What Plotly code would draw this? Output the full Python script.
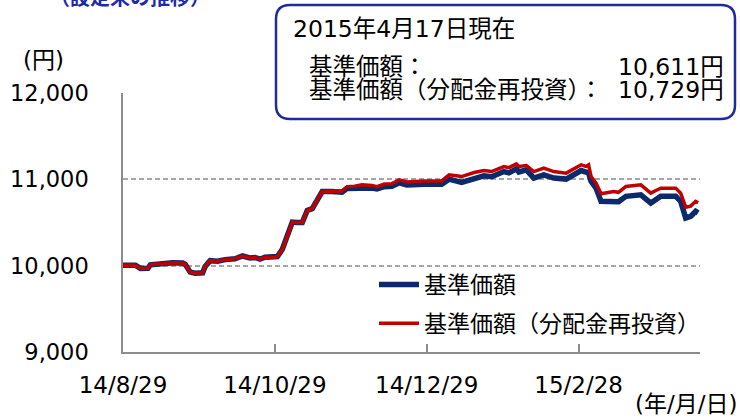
import plotly.graph_objects as go

# ---- data ----
dates = [
    "2014-08-29", "2014-09-01", "2014-09-03", "2014-09-05", "2014-09-08", "2014-09-09",
    "2014-09-11", "2014-09-15", "2014-09-18", "2014-09-22", "2014-09-23", "2014-09-25",
    "2014-09-27", "2014-09-30", "2014-10-01", "2014-10-03", "2014-10-06", "2014-10-09",
    "2014-10-13", "2014-10-16", "2014-10-19", "2014-10-21", "2014-10-23", "2014-10-25",
    "2014-10-28", "2014-10-30", "2014-11-01", "2014-11-03", "2014-11-05", "2014-11-07",
    "2014-11-09", "2014-11-11", "2014-11-13", "2014-11-15", "2014-11-17", "2014-11-21",
    "2014-11-25", "2014-11-27", "2014-11-30", "2014-12-03", "2014-12-07", "2014-12-09",
    "2014-12-12", "2014-12-15", "2014-12-18", "2014-12-21", "2014-12-24", "2014-12-28",
    "2015-01-04", "2015-01-07", "2015-01-12", "2015-01-17", "2015-01-21", "2015-01-24",
    "2015-01-29", "2015-01-31", "2015-02-03", "2015-02-04", "2015-02-07", "2015-02-10",
    "2015-02-14", "2015-02-18", "2015-02-23", "2015-03-01", "2015-03-03", "2015-03-04",
    "2015-03-05", "2015-03-07", "2015-03-09", "2015-03-14", "2015-03-16", "2015-03-19",
    "2015-03-25", "2015-03-29", "2015-03-31", "2015-04-02", "2015-04-08", "2015-04-10",
    "2015-04-12", "2015-04-14", "2015-04-16", "2015-04-17",
]
nav = [
    10005, 10010, 10005, 9968, 9970, 10010,
    10018, 10022, 10035, 10030, 10015, 9925,
    9912, 9918, 9990, 10058, 10052, 10070,
    10080, 10112, 10090, 10095, 10075, 10098,
    10095, 10105, 10190, 10340, 10505, 10500,
    10500, 10640, 10660, 10760, 10858, 10860,
    10850, 10895, 10900, 10905, 10900, 10890,
    10915, 10920, 10960, 10935, 10940, 10942,
    10942, 11002, 10965, 11015, 11040, 11030,
    11090, 11075, 11121, 11085, 11110, 11014,
    11052, 11015, 11003, 11102, 11080, 11075,
    10977, 10898, 10745, 10745, 10740, 10803,
    10821, 10725, 10763, 10803, 10803, 10745,
    10551, 10570, 10630, 10611,
]
nav_reinvested = [
    10005, 10010, 10005, 9968, 9970, 10010,
    10018, 10022, 10035, 10030, 10015, 9925,
    9912, 9918, 9990, 10058, 10052, 10070,
    10080, 10112, 10090, 10095, 10075, 10098,
    10095, 10105, 10190, 10340, 10505, 10500,
    10500, 10640, 10660, 10760, 10858, 10862,
    10865, 10915, 10920, 10936, 10930, 10915,
    10945, 10950, 10995, 10970, 10978, 10980,
    10982, 11052, 11032, 11079, 11102, 11090,
    11148, 11135, 11179, 11150, 11160, 11090,
    11129, 11090, 11072, 11168, 11150, 11168,
    11033, 10957, 10832, 10860, 10850, 10918,
    10936, 10840, 10871, 10898, 10898, 10840,
    10678, 10690, 10745, 10729,
]
series_names = ["基準価額", "基準価額（分配金再投資）"]
x_tick_values = ["2014-08-29", "2014-10-29", "2014-12-29", "2015-02-28"]
x_tick_labels = ["14/8/29", "14/10/29", "14/12/29", "15/2/28"]
y_tick_values = [9000, 10000, 11000, 12000]
y_tick_labels = ["9,000", "10,000", "11,000", "12,000"]
as_of_text = "2015年4月17日現在"
nav_label = "基準価額："
nav_value = "10,611円"
reinv_label = "基準価額（分配金再投資）："
reinv_value = "10,729円"

# ---- layout geometry ----
W, H = 740, 418
ML, MR, MT, MB = 123, 40, 93, 66
PW, PH = W - ML - MR, H - MT - MB

def px(x):
    return (x - ML) / PW

def py(y):
    return (H - MB - y) / PH

FONT = "DejaVu Sans, Noto Sans CJK JP, sans-serif"
JFONT = "Noto Sans CJK JP, sans-serif"
NAVY = "#0b2a6b"
RED = "#c00000"
BOXBLUE = "#1f2a9c"

fig = go.Figure()
fig.add_trace(go.Scatter(x=dates, y=nav, mode="lines", name=series_names[0],
                         line=dict(color=NAVY, width=5.5), legendgroup="a"))
fig.add_trace(go.Scatter(x=dates, y=nav_reinvested, mode="lines", name=series_names[1],
                         line=dict(color=RED, width=3.5), legendgroup="b"))

fig.update_layout(
    width=W, height=H,
    margin=dict(l=ML, r=MR, t=MT, b=MB, pad=0, autoexpand=False),
    paper_bgcolor="white", plot_bgcolor="white",
    font=dict(family=FONT, size=22, color="#000000"),
    showlegend=True,
    legend=dict(x=px(374), y=py(263), xanchor="left", yanchor="top",
                bgcolor="rgba(0,0,0,0)", font=dict(family=JFONT, size=23),
                tracegroupgap=6, itemwidth=40),
    xaxis=dict(
        type="date", automargin=False,
        range=["2014-08-29", "2015-04-17 18:00"],
        tickvals=x_tick_values, ticktext=x_tick_labels,
        ticks="inside", ticklen=8, tickwidth=1.5, tickcolor="#8c8c8c",
        showline=True, linecolor="#8c8c8c", linewidth=1.5,
        showgrid=False, zeroline=False,
        ticklabelstandoff=12,
        tickfont=dict(family=FONT, size=23),
    ),
    yaxis=dict(
        range=[9000, 12000], automargin=False,
        tickvals=y_tick_values, ticktext=y_tick_labels,
        showline=True, linecolor="#8c8c8c", linewidth=1.5,
        showgrid=True, gridcolor="#a6a6a6", gridwidth=1.5, griddash="5px,3px",
        zeroline=False, ticks="",
        ticklabelstandoff=28,
        tickfont=dict(family=FONT, size=22.5),
    ),
)

# rounded info box
x0, x1, y0, y1 = 276, 735, 5, 119
r = 14
def P(x, y):
    return f"{px(x):.5f},{py(y):.5f}"
path = (f"M {P(x0 + r, y0)} L {P(x1 - r, y0)} Q {P(x1, y0)} {P(x1, y0 + r)} "
        f"L {P(x1, y1 - r)} Q {P(x1, y1)} {P(x1 - r, y1)} "
        f"L {P(x0 + r, y1)} Q {P(x0, y1)} {P(x0, y1 - r)} "
        f"L {P(x0, y0 + r)} Q {P(x0, y0)} {P(x0 + r, y0)} Z")
fig.add_shape(type="path", xref="paper", yref="paper", path=path,
              line=dict(color=BOXBLUE, width=2.5), fillcolor="white", layer="above")

def note(text, x, y, xanchor="left", size=23.5, color="#000000", family=FONT, bold=False):
    if bold:
        text = f"<b>{text}</b>"
    fig.add_annotation(text=text, xref="paper", yref="paper", x=px(x), y=py(y),
                       xanchor=xanchor, yanchor="middle", showarrow=False,
                       font=dict(family=family, size=size, color=color))

note(as_of_text, 291, 29)
note(nav_label, 307, 67)
note(nav_value, 726, 67, xanchor="right")
note(reinv_label, 307, 90)
note(reinv_value, 726, 90, xanchor="right")
note("(円)", 43, 60, xanchor="center", size=23)
note("(年/月/日)", 739, 404, xanchor="right", size=23)

# partially visible heading at the very top (cut off in the reference)
fig.add_annotation(text="<b>（設定来の推移）</b>", xref="paper", yref="paper",
                   x=px(48), y=py(13), xanchor="left", yanchor="bottom",
                   showarrow=False,
                   font=dict(family=JFONT, size=20, color="#1f2aa8"))

fig.write_html("out.html", config={"displayModeBar": False},
               post_script="document.body.style.margin='0';")
